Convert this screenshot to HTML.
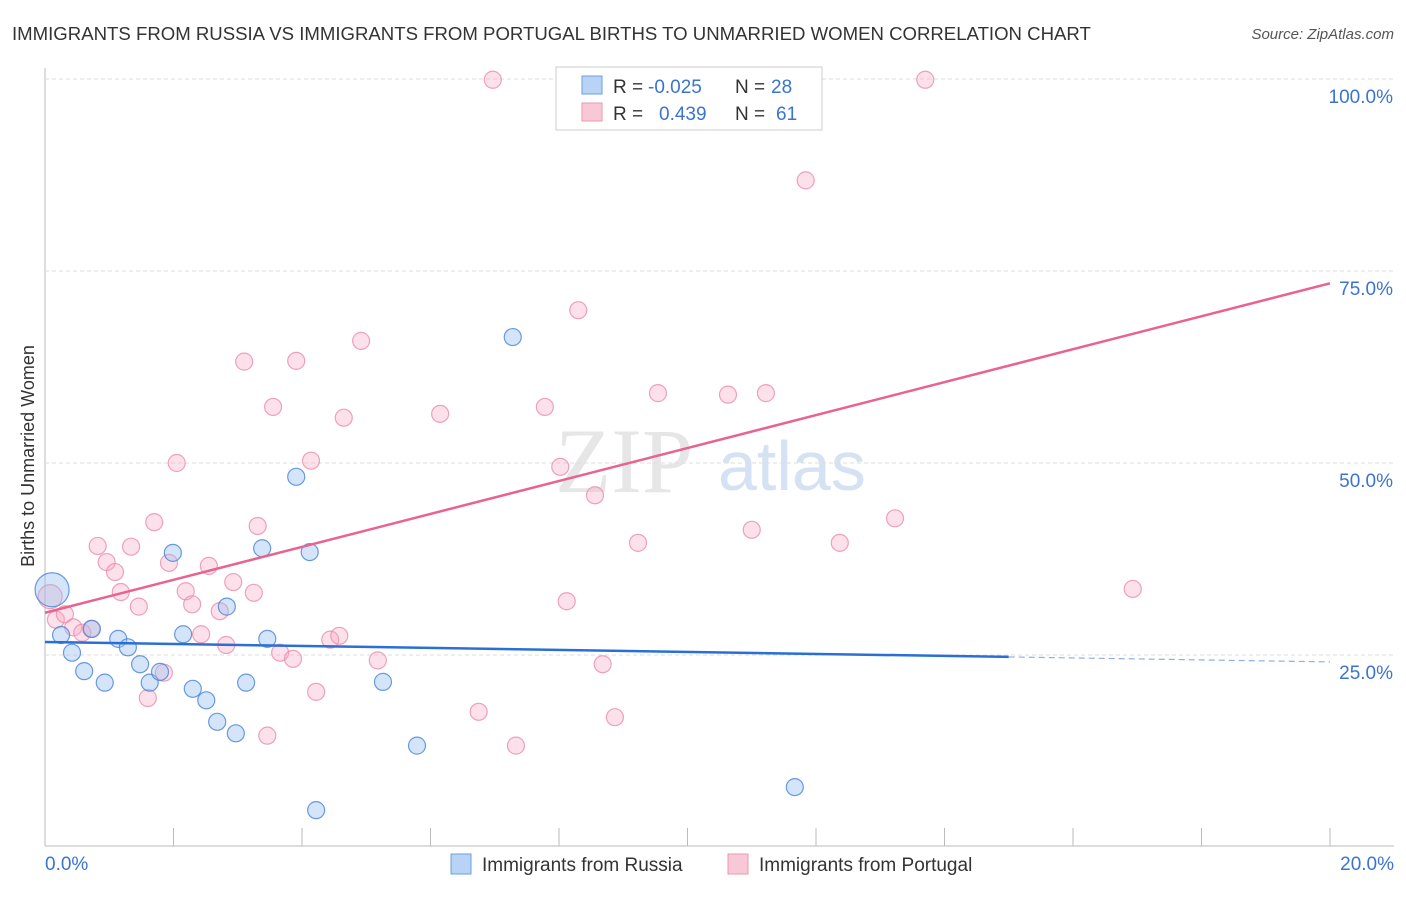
<!DOCTYPE html>
<html><head><meta charset="utf-8"><style>
body{margin:0;background:#fff;font-family:"Liberation Sans",sans-serif;}
</style></head><body>
<svg id="c" width="1406" height="892" xmlns="http://www.w3.org/2000/svg">
<text x="12" y="40" font-size="18.6" fill="#333">IMMIGRANTS FROM RUSSIA VS IMMIGRANTS FROM PORTUGAL BIRTHS TO UNMARRIED WOMEN CORRELATION CHART</text>
<text x="1394" y="39" font-size="15" fill="#555" text-anchor="end" font-style="italic">Source: ZipAtlas.com</text>
<text x="34" y="456" font-size="18" fill="#333" text-anchor="middle" transform="rotate(-90 34 456)">Births to Unmarried Women</text>
<text x="555" y="492" font-size="92" fill="#e6e6e6" font-family="Liberation Serif,serif">ZIP</text>
<text x="718" y="490" font-size="70" fill="#d4e2f4">atlas</text>
<g id="grid"></g><g id="pts"></g><g id="lines"></g>
<g>
<rect x="556" y="67" width="266" height="63" fill="#fff" stroke="#ccc"/>
<rect x="582" y="76" width="20" height="18" fill="#b8d3f5" stroke="#6a9fe0"/>
<rect x="582" y="103" width="20" height="18" fill="#f9c8d6" stroke="#eb97b0"/>
<text x="613" y="93" font-size="19" fill="#333">R =</text>
<text x="648" y="93" font-size="19" fill="#3a74d0">-0.025</text>
<text x="735" y="93" font-size="19" fill="#333">N =</text>
<text x="771" y="93" font-size="19" fill="#3a74d0">28</text>
<text x="613" y="120" font-size="19" fill="#333">R =</text>
<text x="659" y="120" font-size="19" fill="#3a74d0">0.439</text>
<text x="735" y="120" font-size="19" fill="#333">N =</text>
<text x="776" y="120" font-size="19" fill="#3a74d0">61</text>
</g>
<g>
<rect x="451" y="854" width="20" height="20" fill="#b8d3f5" stroke="#6a9fe0"/>
<text x="482" y="871" font-size="19" fill="#333">Immigrants from Russia</text>
<rect x="728" y="854" width="20" height="20" fill="#f9c8d6" stroke="#eb97b0"/>
<text x="759" y="871" font-size="19" fill="#333">Immigrants from Portugal</text>
</g>
</svg>
<script>
const xTicks=[0,2,4,6,8,10,12,14,16,18,20];
const yTicks=[25,50,75,100];
const russiaX=[0.11,0.25,0.42,0.61,0.73,0.93,1.14,1.29,1.48,1.63,1.79,1.99,2.15,2.30,2.51,2.68,2.83,2.97,3.13,3.38,3.46,3.91,4.12,4.22,5.26,5.79,7.28,11.67];
const russiaY=[33.5,27.6,25.3,22.9,28.4,21.4,27.1,26.0,23.8,21.4,22.8,38.3,27.7,20.6,19.1,16.3,31.3,14.8,21.4,38.9,27.1,48.2,38.4,4.8,21.5,13.2,66.4,7.8];
const portX=[0.08,0.17,0.31,0.44,0.58,0.72,0.82,0.96,1.09,1.18,1.34,1.46,1.60,1.70,1.85,1.93,2.05,2.19,2.29,2.43,2.55,2.72,2.82,2.93,3.10,3.25,3.31,3.46,3.55,3.66,3.86,3.91,4.14,4.22,4.44,4.58,4.65,4.92,5.18,6.15,6.75,6.97,7.33,7.78,8.02,8.12,8.30,8.56,8.68,8.87,9.23,9.54,10.63,11.00,11.22,11.72,11.84,12.37,13.23,13.70,16.93];
const portY=[32.6,29.6,30.3,28.6,27.9,28.4,39.2,37.1,35.8,33.2,39.1,31.3,19.4,42.3,22.7,37.0,50.0,33.3,31.6,27.7,36.6,30.7,26.3,34.5,63.2,33.1,41.8,14.5,57.3,25.3,24.5,63.3,50.3,20.2,27.0,27.5,55.9,65.9,24.3,56.4,17.6,99.9,13.2,57.3,49.5,32.0,69.9,45.8,23.8,16.9,39.6,59.1,58.9,41.3,59.1,99.9,86.8,39.6,42.8,99.9,33.6];
const russiaTrend=[26.7,24.1];
const portTrend=[30.5,73.4];
const NS='http://www.w3.org/2000/svg';
const sx=v=>45+v*64.25, sy=v=>847-v*7.68;
function mk(tag,at,parent){const e=document.createElementNS(NS,tag);for(const k in at)e.setAttribute(k,at[k]);document.getElementById(parent).appendChild(e);return e;}
const ax=mk('line',{x1:45,y1:68,x2:45,y2:846,stroke:'#bbb'},'grid');


const bx=mk('line',{x1:45,y1:846,x2:1394,y2:846,stroke:'#bbb'},'grid');


xTicks.forEach(t=>{const l=mk('line',{x1:sx(t),y1:828,x2:sx(t),y2:846,stroke:'#bbb'},'grid');

});
yTicks.forEach(t=>{const l=mk('line',{x1:45,y1:sy(t),x2:1394,y2:sy(t),stroke:'#ddd','stroke-dasharray':'4 3'},'grid');


const tx=mk('text',{x:1393,y:sy(t)+24,'font-size':19,fill:'#3a74d0','text-anchor':'end'},'grid');tx.textContent=t.toFixed(1)+'%';

});
const x0=mk('text',{x:45,y:870,'font-size':19,fill:'#3a74d0'},'grid');x0.textContent='0.0%';


const x1=mk('text',{x:1394,y:870,'font-size':19,fill:'#3a74d0','text-anchor':'end'},'grid');x1.textContent='20.0%';


portX.forEach((x,i)=>{const c=mk('circle',{cx:sx(x),cy:sy(portY[i]),r:i==0?12:8.5,fill:'rgba(246,170,195,0.35)',stroke:'rgba(235,140,170,0.8)','stroke-width':1.2},'pts');

});
russiaX.forEach((x,i)=>{const c=mk('circle',{cx:sx(x),cy:sy(russiaY[i]),r:i==0?17:8.5,fill:'rgba(150,190,240,0.4)',stroke:'rgba(70,130,220,0.8)','stroke-width':1.2},'pts');

});
const rb=russiaTrend[0]+(russiaTrend[1]-russiaTrend[0])*0.75;
const r1=mk('line',{x1:sx(0),y1:sy(russiaTrend[0]),x2:sx(15),y2:sy(rb),stroke:'#2a6fd6','stroke-width':2.5},'lines');


const r2=mk('line',{x1:sx(15),y1:sy(rb),x2:sx(20),y2:sy(russiaTrend[1]),stroke:'#8fb0e0','stroke-width':1.2,'stroke-dasharray':'6 4'},'lines');


const p1=mk('line',{x1:sx(0),y1:sy(portTrend[0]),x2:sx(20),y2:sy(portTrend[1]),stroke:'#e8638f','stroke-width':2.5},'lines');


</script>
</body></html>
